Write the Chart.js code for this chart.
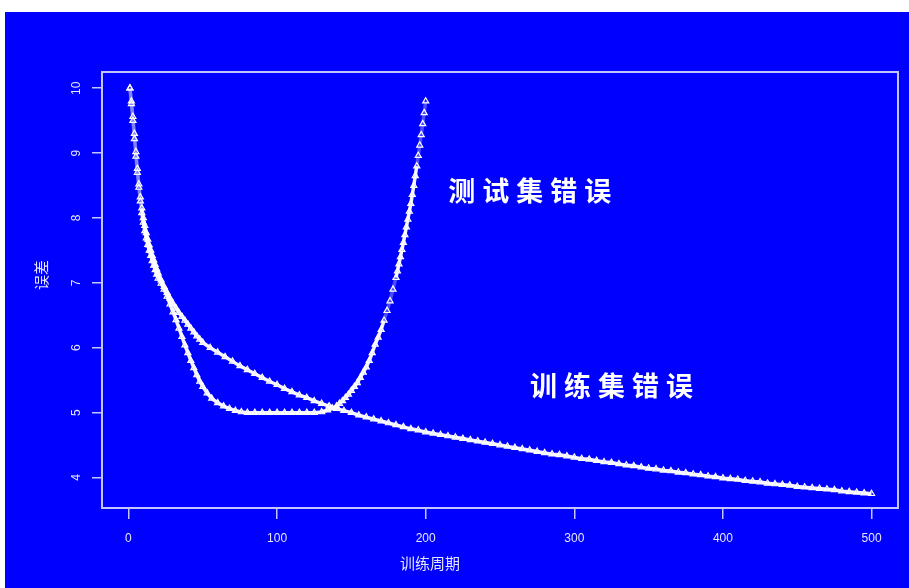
<!DOCTYPE html>
<html>
<head>
<meta charset="utf-8">
<script src="https://cdn.jsdelivr.net/npm/chart.js@4.4.0/dist/chart.umd.min.js"></script>
<style>
  html, body { margin: 0; background: #fff; }
  #wrap { position: absolute; left: 5px; top: 12px; width: 904px; height: 576px; background: #0000ff; }
  #c { filter: blur(0.5px); }
</style>
</head>
<body>
<div id="wrap"><canvas id="c" width="904" height="576"></canvas></div>
<script>
// training error
const trainEpochs = [1,2,3,4,5,6,7,8,9,10,11,12,13,14,15,16,17,18,19,20,
  22,24,26,28,30,32,34,36,38,40,42,44,46,48,50,
  55,60,65,70,75,80,85,90,95,100,105,110,115,120,125,130,135,140,145,150,
  155,160,165,170,175,180,185,190,195,200,205,210,215,220,225,230,235,240,245,250,
  255,260,265,270,275,280,285,290,295,300,305,310,315,320,325,330,335,340,345,350,
  355,360,365,370,375,380,385,390,395,400,405,410,415,420,425,430,435,440,445,450,
  455,460,465,470,475,480,485,490,495,500];
const trainError = [10.00,9.80,9.56,9.30,9.02,8.76,8.52,8.32,8.15,8.00,7.88,7.77,7.67,7.58,7.50,7.42,7.35,7.28,7.21,7.15,
  7.04,6.94,6.85,6.76,6.68,6.61,6.54,6.48,6.42,6.36,6.30,6.24,6.18,6.13,6.08,
  6.00,5.93,5.86,5.79,5.72,5.66,5.60,5.54,5.48,5.43,5.37,5.32,5.27,5.23,5.18,5.14,5.10,5.06,5.03,5.00,
  4.96,4.93,4.90,4.87,4.84,4.81,4.78,4.75,4.73,4.70,4.68,4.66,4.64,4.62,4.60,4.58,4.56,4.54,4.52,4.50,
  4.48,4.46,4.44,4.42,4.40,4.38,4.36,4.35,4.33,4.31,4.29,4.28,4.26,4.24,4.23,4.21,4.19,4.18,4.16,4.14,
  4.13,4.11,4.10,4.08,4.07,4.05,4.04,4.02,4.01,3.99,3.98,3.97,3.95,3.94,3.93,3.91,3.90,3.89,3.88,3.86,
  3.85,3.84,3.83,3.82,3.81,3.79,3.78,3.77,3.76,3.75];

// test error
const testEpochs = [1,2,3,4,5,6,7,8,9,10,11,12,13,14,15,16,17,18,19,20,
  22,24,26,28,30,32,34,36,38,40,42,44,46,48,50,
  53,56,60,64,68,72,76,80,85,90,95,100,105,110,115,120,125,
  130,134,137,140,142,144,146,148,150,152,154,156,158,160,162,164,166,168,170,172,174,176,178,180,
  181,182,183,184,185,186,187,188,189,190,191,192,193,194,195,196,197,198,199,200];
const testError = [10.00,9.76,9.50,9.22,8.95,8.70,8.47,8.26,8.08,7.93,7.80,7.69,7.59,7.50,7.42,7.34,7.27,7.20,7.13,7.07,
  6.99,6.90,6.79,6.67,6.55,6.43,6.30,6.17,6.04,5.92,5.80,5.69,5.58,5.48,5.40,
  5.30,5.22,5.15,5.10,5.06,5.03,5.01,5.00,5.00,5.00,5.00,5.00,5.00,5.00,5.00,5.00,5.00,
  5.01,5.04,5.07,5.10,5.14,5.18,5.23,5.28,5.34,5.40,5.46,5.54,5.62,5.70,5.80,5.92,6.05,6.16,6.28,6.42,6.57,6.72,6.90,7.08,
  7.18,7.29,7.40,7.51,7.62,7.74,7.86,7.98,8.10,8.22,8.36,8.50,8.65,8.80,8.96,9.12,9.28,9.45,9.62,9.80];

const xTicks = [0, 100, 200, 300, 400, 500];
const yTicks = [4, 5, 6, 7, 8, 9, 10];

const xTitle = "训练周期";
const yTitle = "误差";
const noteTexts = ["测试集错误", "训练集错误"];
const noteEpoch = [270, 325];
const noteError = [8.42, 5.42];

const INK = "#e6e6ff";
const LINE = "#c4c4ff";

const toPoints = (xs, ys) => xs.map((x, i) => ({ x: x, y: ys[i] }));

// long segments (steep parts) stay faint so the separate markers show, like the original
const segColor = (c) => Math.hypot(c.p1.x - c.p0.x, c.p1.y - c.p0.y) > 10 ? "rgba(255,255,255,0.3)" : "rgba(255,255,255,0.95)";

const marks = (data) => ({
  data: data,
  showLine: true,
  borderColor: "rgba(255,255,255,0.95)",
  borderWidth: 3.5,
  segment: { borderColor: segColor },
  pointStyle: "triangle",
  pointRadius: 3.5,
  pointBorderWidth: 1.2,
  pointBorderColor: "#ffffff",
  pointBackgroundColor: "rgba(0,0,255,0)"
});

const framePlugin = {
  id: "frame",
  afterDraw(chart) {
    const { ctx, chartArea: a, scales: { x, y } } = chart;
    ctx.save();
    ctx.strokeStyle = LINE;
    ctx.lineWidth = 2;
    ctx.strokeRect(a.left, a.top, a.right - a.left, a.bottom - a.top);

    ctx.fillStyle = INK;
    ctx.textAlign = "center";
    ctx.textBaseline = "middle";
    ctx.font = '15px "Noto Sans CJK SC"';
    ctx.fillText(xTitle, 425, 551);
    ctx.save();
    ctx.translate(36, 263);
    ctx.rotate(-Math.PI / 2);
    ctx.fillText(yTitle, 0, 0);
    ctx.restore();

    ctx.font = 'bold 27px "Noto Sans CJK SC"';
    ctx.letterSpacing = "7px";
    ctx.textAlign = "left";
    ctx.fillStyle = "#ffffff";
    noteTexts.forEach((t, i) => {
      const w = ctx.measureText(t).width - 7;
      ctx.fillText(t, x.getPixelForValue(noteEpoch[i]) - w / 2, y.getPixelForValue(noteError[i]));
    });
    ctx.restore();
  }
};

new Chart(document.getElementById("c"), {
  type: "scatter",
  data: {
    datasets: [marks(toPoints(trainEpochs, trainError)), marks(toPoints(testEpochs, testError))]
  },
  options: {
    responsive: false,
    animation: false,
    layout: { padding: { top: 60, right: 11, left: 0, bottom: 0 } },
    plugins: { legend: { display: false }, tooltip: { enabled: false } },
    scales: {
      x: {
        type: "linear",
        min: -17.8, max: 517.8,
        afterBuildTicks: s => { s.ticks = xTicks.map(v => ({ value: v })); },
        afterFit: s => { s.height = 80; },
        ticks: { color: INK, font: { family: "Liberation Sans", size: 12 }, padding: 12, maxRotation: 0 },
        grid: { drawOnChartArea: false, drawTicks: true, tickLength: 11, color: LINE, lineWidth: 1.5 },
        border: { display: false }
      },
      y: {
        type: "linear",
        min: 3.53, max: 10.25,
        afterBuildTicks: s => { s.ticks = yTicks.map(v => ({ value: v })); },
        afterFit: s => { s.width = 97; },
        ticks: { color: INK, font: { family: "Liberation Sans", size: 12 }, padding: 9,
          minRotation: 90, maxRotation: 90, crossAlign: "center" },
        grid: { drawOnChartArea: false, drawTicks: true, tickLength: 10, color: LINE, lineWidth: 1.5 },
        border: { display: false }
      }
    }
  },
  plugins: [framePlugin]
});
</script>
</body>
</html>
